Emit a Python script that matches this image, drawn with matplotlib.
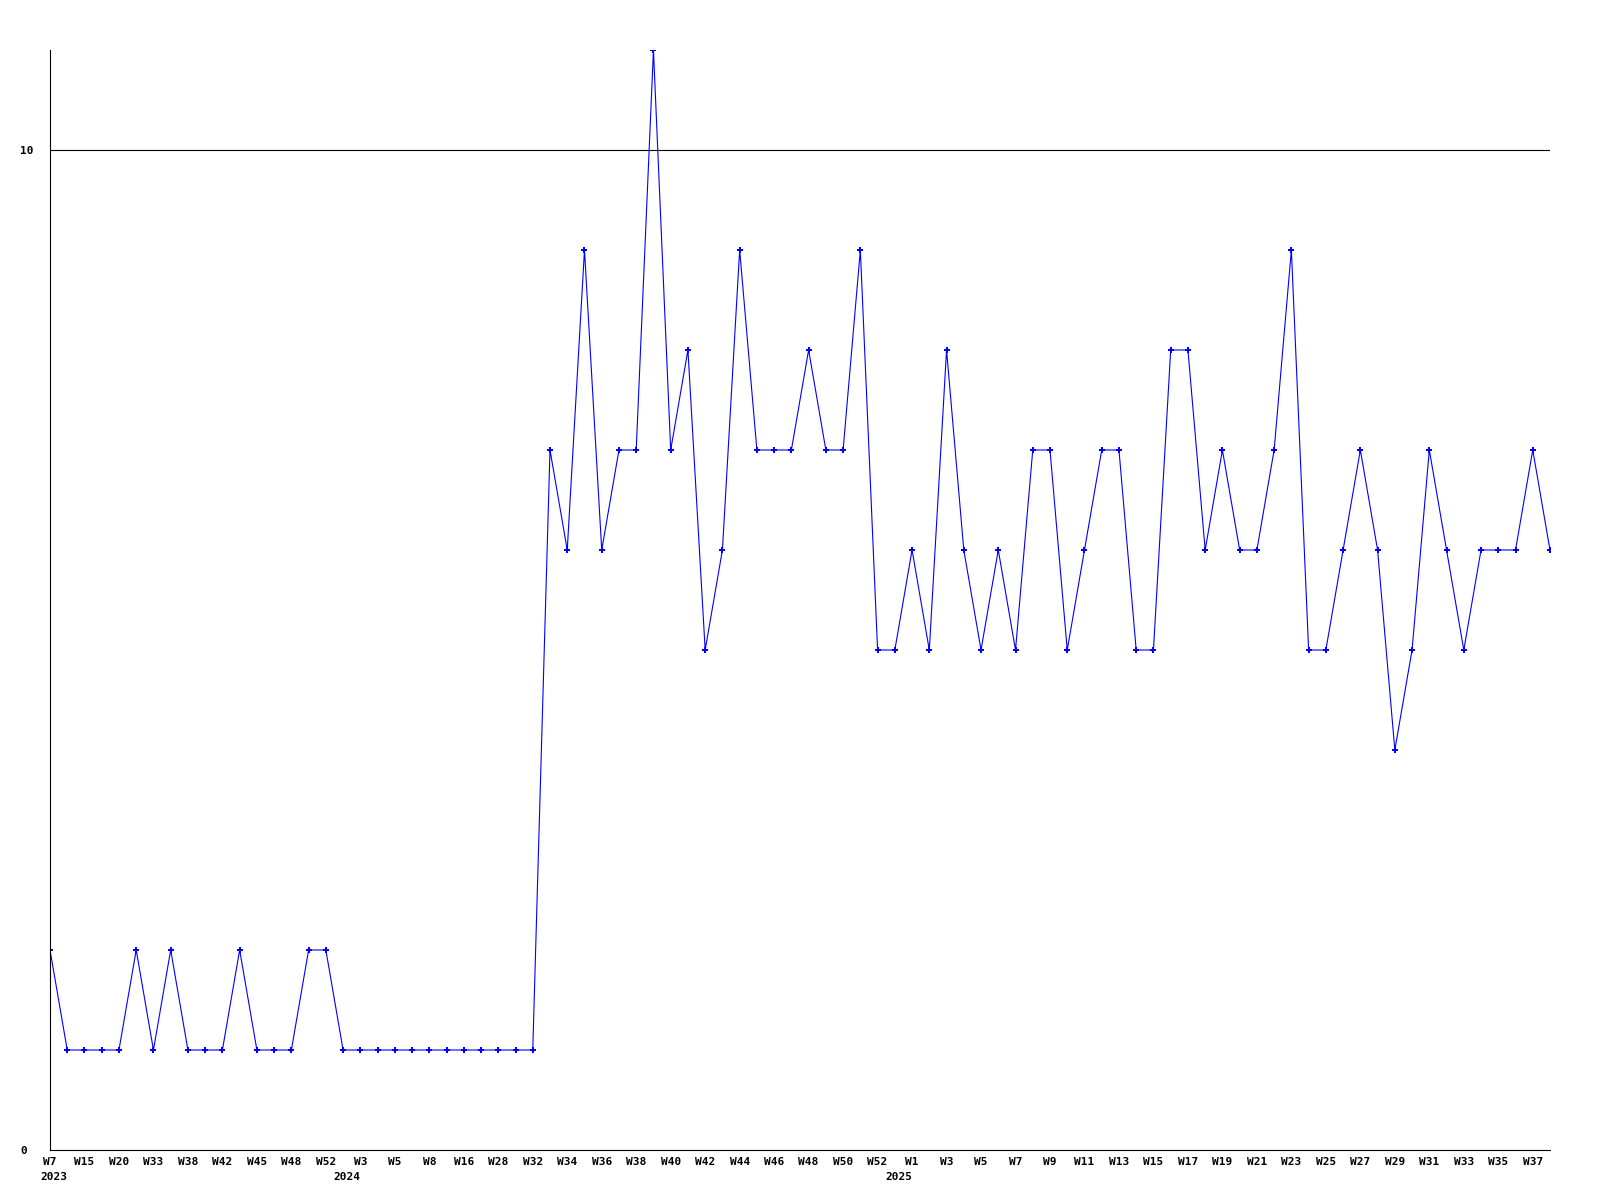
import matplotlib
matplotlib.use("Agg")
import matplotlib.pyplot as plt

# weekly values
values = [2, 1, 1, 1, 1, 2, 1, 2, 1, 1, 1, 2, 1, 1, 1, 2, 2, 1,
          1, 1, 1, 1, 1, 1, 1, 1, 1, 1, 1,
          7, 6, 9, 6, 7, 7, 11, 7, 8, 5, 6, 9, 7, 7, 7, 8, 7, 7, 9,
          5, 5, 6, 5, 8, 6, 5, 6, 5, 7, 7, 5, 6, 7, 7, 5, 5, 8, 8,
          6, 7, 6, 6, 7, 9, 5, 5, 6, 7, 6, 4, 5, 7, 6, 5, 6, 6, 6, 7, 6]

# labels shown on every second point
tick_labels = ["W7", "W15", "W20", "W33", "W38", "W42", "W45", "W48", "W52",
               "W3", "W5", "W8", "W16", "W28", "W32", "W34", "W36", "W38",
               "W40", "W42", "W44", "W46", "W48", "W50", "W52", "W1",
               "W3", "W5", "W7", "W9", "W11", "W13", "W15", "W17", "W19", "W21",
               "W23", "W25", "W27", "W29", "W31", "W33", "W35", "W37"]

# year markers under the first week of each year
years = ["2023", "2024", "2025"]
year_index = [0, 18, 50]

y_ticks = [0, 10]

x = list(range(len(values)))

fig = plt.figure(figsize=(16, 12), dpi=100)
ax = fig.add_axes([50 / 1600, 50 / 1200, 1500 / 1600, 1100 / 1200])

ax.plot(x, values, color="#0000ff", linewidth=0.8, marker="P", markersize=4,
        markeredgewidth=0)
ax.axhline(10, color="black", linewidth=0.8, zorder=0)

ax.set_xlim(0, len(values) - 1)
ax.set_ylim(0, 11)

for side in ["top", "right"]:
    ax.spines[side].set_visible(False)
for side in ["left", "bottom"]:
    ax.spines[side].set_linewidth(0.8)
    ax.spines[side].set_color("black")

font = {"family": "DejaVu Sans Mono", "weight": "bold", "size": 8}

ax.set_xticks(x[::2])
ax.set_xticklabels(tick_labels, fontdict=font)
ax.set_yticks(y_ticks)
ax.set_yticklabels([str(v) for v in y_ticks], fontdict=font)
for lbl in ax.get_yticklabels():
    lbl.set_horizontalalignment("left")

ax.tick_params(axis="x", length=0, pad=5)
ax.tick_params(axis="y", length=0, pad=21.6)

# year labels on a second line
for yr, i in zip(years, year_index):
    if i == 0:
        ax.annotate(yr, xy=(i, 0), xycoords=("data", "axes fraction"),
                    xytext=(-7, -16), textcoords="offset points",
                    ha="left", va="top", **font)
    else:
        ax.annotate(yr, xy=(i, 0), xycoords=("data", "axes fraction"),
                    xytext=(0, -16), textcoords="offset points",
                    ha="right", va="top", **font)

fig.savefig("out.png", dpi=100)
